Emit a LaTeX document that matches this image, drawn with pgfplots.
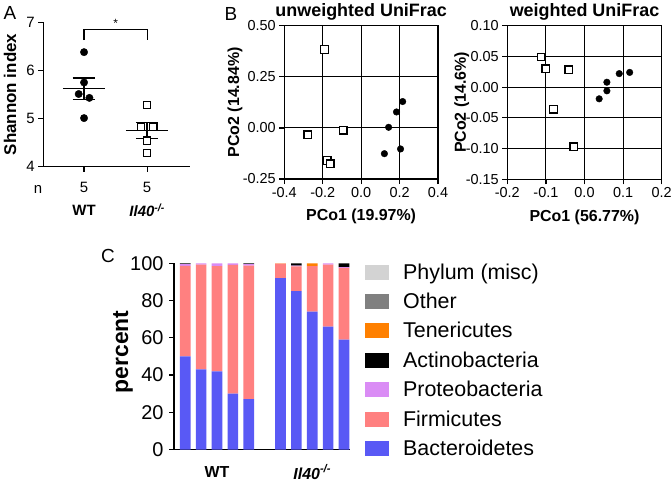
\documentclass[border=0pt]{standalone}
\usepackage{pgfplots}
\pgfplotsset{compat=1.18}
\usepackage{pgfplotstable}
\usepackage{fontspec}
\setmainfont{Liberation Sans}

\definecolor{bact}{RGB}{89,89,245}
\definecolor{firm}{RGB}{255,128,128}
\definecolor{prot}{RGB}{218,140,245}
\definecolor{act}{RGB}{0,0,0}
\definecolor{ten}{RGB}{255,128,0}
\definecolor{oth}{RGB}{128,128,128}
\definecolor{misc}{RGB}{211,211,211}

\newcommand{\fs}[1]{\fontsize{#1}{#1}\selectfont}
\newcommand{\ko}{\textbf{\textit{Il40}}\textsuperscript{\bfseries\itshape -/-}}

\pgfplotsset{
  every axis/.append style={/pgf/number format/assume math mode=true, scale only axis, anchor=south west, clip=false},
  every axis title shift=0pt,
  legsq/.style={legend image code/.code={\fill[##1] (0bp,-7.5bp) rectangle (24bp,7.5bp);}},
  mytick/.style={tick align=outside, major tick length=5bp, every tick/.style={black, line width=1.2bp}},
}

\pgfplotstableread{
x bact firm prot act ten
0 50 48.6 1.0 0.4 0
1 43 56.3 0.7 0 0
2 42 56.5 1.5 0 0
3 30 69.2 0.8 0 0
4 27 71.8 0.8 0.4 0
6 92 7.8 0 0 0.2
7 85 13.3 0.4 1.3 0
8 74 24.5 0 0 1.5
9 66 33.3 0.7 0 0
10 59 38.6 0.4 2.0 0
}\phyla

\begin{document}
\begin{tikzpicture}
\useasboundingbox (0,0) rectangle (672bp,-481bp);

% panel labels
\node[font=\fs{19}] at (10bp,-13bp) {A};
\node[font=\fs{19}] at (231bp,-13.5bp) {B};
\node[font=\fs{19}] at (108bp,-256bp) {C};

% ---------------- Panel A ----------------
\begin{axis}[at={(43.3bp,-166.7bp)}, width=146.7bp, height=144.4bp,
  xmin=0.354, xmax=2.68, ymin=4, ymax=7,
  axis lines=left, axis line style={-, line width=1.3bp}, mytick,
  xtick={1,2}, xticklabels={5,5}, ytick={4,5,6,7},
  tick label style={font=\fs{15}},
  xticklabel style={yshift=-7bp},
  ylabel={\bfseries Shannon index},
  ylabel style={font=\fs{17}, at={(axis description cs:-0.227,0.5)}, anchor=center},
]
\addplot[only marks, mark=*, mark size=3.7bp, black] coordinates {(1,6.38)(1,5.75)(0.915,5.51)(1.085,5.43)(1,5.01)};
\addplot[only marks, mark=square*, mark size=3.6bp, black, mark options={line width=1.3bp, fill=white}] coordinates {(2,5.28)(1.9,4.83)(2.1,4.83)(2,4.54)(2,4.28)};
\addplot[black, line width=1.3bp] coordinates {(0.665,5.62)(1.335,5.62)};
\addplot[black, line width=1.3bp] coordinates {(0.82,5.84)(1.18,5.84)};
\addplot[black, line width=1.3bp] coordinates {(0.82,5.40)(1.18,5.40)};
\addplot[black, line width=1.3bp] coordinates {(1,5.40)(1,5.84)};
\addplot[black, line width=1.3bp] coordinates {(1.665,4.75)(2.335,4.75)};
\addplot[black, line width=1.3bp] coordinates {(1.82,4.92)(2.18,4.92)};
\addplot[black, line width=1.3bp] coordinates {(1.82,4.58)(2.18,4.58)};
\addplot[black, line width=1.3bp] coordinates {(2,4.58)(2,4.92)};
\addplot[black, line width=1.2bp] coordinates {(1,6.63)(1,6.85)(2,6.85)(2,6.63)};
\node[font=\fs{12}] at (axis cs:1.5,6.97) {*};
\node[font=\fs{15}] at (axis cs:0.27,3.52) {n};
\node[font=\fs{15}] at (axis cs:1,3.10) {\bfseries WT};
\node[font=\fs{15}] at (axis cs:2,3.10) {\ko};
\end{axis}

% ---------------- Panel B left ----------------
\begin{axis}[at={(284.3bp,-179bp)}, width=153.7bp, height=153.3bp,
  xmin=-0.4, xmax=0.4, ymin=-0.25, ymax=0.5,
  xtick={-0.4,-0.2,0,0.2,0.4}, ytick={-0.25,0,0.25,0.5},
  grid=major, grid style={black, line width=1.1bp},
  axis line style={line width=1.3bp}, mytick, tick pos=left,
  xticklabel style={/pgf/number format/.cd, fixed, fixed zerofill, precision=1},
  yticklabel style={/pgf/number format/.cd, fixed, fixed zerofill, precision=2},
  tick label style={font=\fs{14.5}},
  title={\bfseries unweighted UniFrac}, title style={font=\fs{18}, at={(axis description cs:0.5,1.091)}, anchor=center},
  xlabel={\bfseries PCo1 (19.97\%)}, ylabel={\bfseries PCo2 (14.84\%)},
  label style={font=\fs{16}},
  xlabel style={at={(axis description cs:0.5,-0.246)}, anchor=center},
  ylabel style={at={(axis description cs:-0.32,0.5)}, anchor=center},
]
\addplot[only marks, mark=square*, mark size=3.8bp, black, mark options={line width=1.3bp, fill=white}] coordinates {(-0.19,0.384)(-0.277,-0.034)(-0.093,-0.011)(-0.176,-0.16)(-0.161,-0.175)};
\addplot[only marks, mark=*, mark size=3.3bp, black] coordinates {(0.216,0.129)(0.184,0.078)(0.143,0.003)(0.205,-0.103)(0.121,-0.126)};
\end{axis}

% ---------------- Panel B right ----------------
\begin{axis}[at={(507.3bp,-179.3bp)}, width=154.4bp, height=153.6bp,
  xmin=-0.2, xmax=0.2, ymin=-0.15, ymax=0.1,
  xtick={-0.2,-0.1,0,0.1,0.2}, ytick={-0.15,-0.1,-0.05,0,0.05,0.1},
  grid=major, grid style={black, line width=1.1bp},
  axis line style={line width=1.3bp}, mytick, tick pos=left,
  xticklabel style={/pgf/number format/.cd, fixed, fixed zerofill, precision=1},
  yticklabel style={/pgf/number format/.cd, fixed, fixed zerofill, precision=2},
  tick label style={font=\fs{14.5}},
  title={\bfseries weighted UniFrac}, title style={font=\fs{18}, at={(axis description cs:0.5,1.091)}, anchor=center},
  xlabel={\bfseries PCo1 (56.77\%)}, ylabel={\bfseries PCo2 (14.6\%)},
  label style={font=\fs{16}},
  xlabel style={at={(axis description cs:0.5,-0.246)}, anchor=center},
  ylabel style={at={(axis description cs:-0.295,0.5)}, anchor=center},
]
\addplot[only marks, mark=square*, mark size=3.8bp, black, mark options={line width=1.3bp, fill=white}] coordinates {(-0.112,0.049)(-0.100,0.030)(-0.041,0.028)(-0.080,-0.036)(-0.028,-0.097)};
\addplot[only marks, mark=*, mark size=3.3bp, black] coordinates {(0.038,-0.019)(0.058,0.008)(0.058,-0.006)(0.090,0.022)(0.117,0.024)};
\end{axis}

% ---------------- Panel C ----------------
\begin{axis}[at={(174bp,-449.5bp)}, width=176bp, height=186.2bp,
  xmin=-0.71, xmax=10.38, ymin=0, ymax=100,
  ybar stacked, bar width=0.67,
  axis lines=left, axis line style={-, line width=1.3bp}, mytick,
  xtick=\empty, ytick={0,20,40,60,80,100},
  tick label style={font=\fs{20}},
  yticklabel style={xshift=-2bp},
  ylabel={\bfseries percent},
  ylabel style={font=\fs{23}, at={(axis description cs:-0.29,0.524)}, anchor=center},
  reverse legend,
  legend style={at={(axis description cs:1.085,1.01)}, anchor=north west, draw=none, fill=none,
    inner sep=0pt, font=\fs{21.5}, row sep=8.4bp, legend cell align=left,
    /tikz/every odd column/.append style={column sep=12bp}},
]
\addplot[fill=bact, draw=none, legsq] table[x=x, y=bact] {\phyla};
\addlegendentry{Bacteroidetes}
\addplot[fill=firm, draw=none, legsq] table[x=x, y=firm] {\phyla};
\addlegendentry{Firmicutes}
\addplot[fill=prot, draw=none, legsq] table[x=x, y=prot] {\phyla};
\addlegendentry{Proteobacteria}
\addplot[fill=act, draw=none, legsq] table[x=x, y=act] {\phyla};
\addlegendentry{Actinobacteria}
\addplot[fill=ten, draw=none, legsq] table[x=x, y=ten] {\phyla};
\addlegendentry{Tenericutes}
\addlegendimage{fill=oth, draw=none, legsq}
\addlegendentry{Other}
\addlegendimage{fill=misc, draw=none, legsq}
\addlegendentry{Phylum (misc)}
\node[font=\fs{16}] at (axis cs:2,-12.1) {\bfseries WT};
\node[font=\fs{16}] at (axis cs:8,-12.1) {\ko};
\end{axis}
\end{tikzpicture}
\end{document}
